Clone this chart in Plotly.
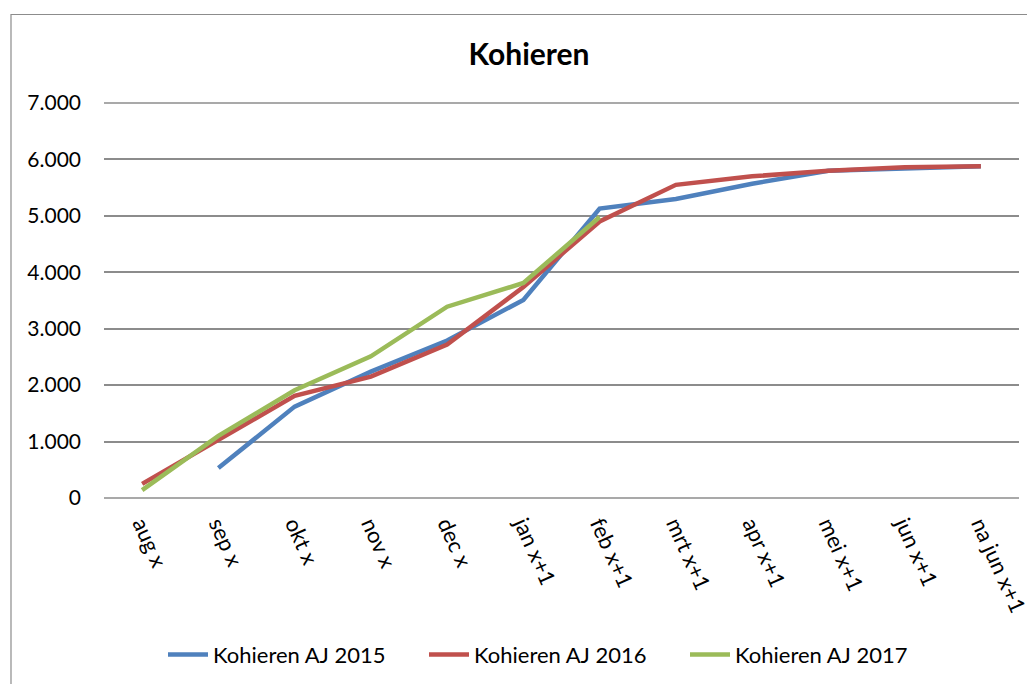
import plotly.graph_objects as go

categories = ["aug x", "sep x", "okt x", "nov x", "dec x", "jan x+1", "feb x+1",
              "mrt x+1", "apr x+1", "mei x+1", "jun x+1", "na jun x+1"]
aj2015 = [None, 530, 1620, 2240, 2790, 3510, 5130, 5300, 5570, 5800, 5840, 5880]
aj2016 = [250, 1020, 1810, 2150, 2720, 3740, 4900, 5550, 5700, 5800, 5860, 5880]
aj2017 = [140, 1100, 1910, 2510, 3390, 3810, 4980]
series_names = ["Kohieren AJ 2015", "Kohieren AJ 2016", "Kohieren AJ 2017"]
colors = ["#4F81BD", "#C0504D", "#9BBB59"]
y_ticks = [0, 1000, 2000, 3000, 4000, 5000, 6000, 7000]
y_tick_labels = ["0", "1.000", "2.000", "3.000", "4.000", "5.000", "6.000", "7.000"]

FONT = "Lato"
# the page body adds an 8px margin; figure is sized to fill the rest of the window
W, H = 1027, 676
fig = go.Figure()
for name, vals, col in zip(series_names, [aj2015, aj2016, aj2017], colors):
    fig.add_trace(go.Scatter(
        x=categories[:len(vals)], y=vals, name=name, mode="lines",
        line=dict(color=col, width=4.5), connectgaps=False))

grid_col = "#8C8C8C"
fig.update_layout(
    width=W, height=H,
    margin=dict(l=96, r=16, t=95, b=186, autoexpand=False),
    paper_bgcolor="white", plot_bgcolor="white",
    font=dict(family=FONT, size=22, color="black"),
    title=dict(text="<b>Kohieren</b>", x=521/W, xref="container", xanchor="center",
               y=1 - 46/H, yref="container", yanchor="middle",
               font=dict(family=FONT, size=30, color="black")),
    showlegend=True,
    legend=dict(orientation="h", x=59 / 915, xanchor="left", y=-0.397, yanchor="middle",
                font=dict(family=FONT, size=22), entrywidth=206, entrywidthmode="pixels",
                itemwidth=40, tracegroupgap=0),
    xaxis=dict(type="category", categoryorder="array", categoryarray=categories,
               range=[-0.5, 11.5], showgrid=False, showline=False, zeroline=False,
               automargin=False,
               tickangle=66, ticks="", ticklabelstandoff=8,
               tickfont=dict(family=FONT, size=22)),
    yaxis=dict(range=[0, 7000], tickvals=y_ticks, ticktext=y_tick_labels,
               showgrid=True, gridcolor=grid_col, gridwidth=1.5, zeroline=False,
               automargin=False,
               showline=False, ticks="", ticklabelstandoff=22,
               tickfont=dict(family=FONT, size=21)),
    shapes=[dict(type="line", xref="paper", yref="paper", x0=0, x1=1, y0=0, y1=0,
                 line=dict(color=grid_col, width=1.5), layer="below"),
            dict(type="line", xref="paper", yref="paper", x0=0, x1=1, y0=1, y1=1,
                 line=dict(color=grid_col, width=1.5), layer="below"),
            dict(type="rect", xref="paper", yref="paper",
                 x0=(11 - 104) / 915, x1=1.06, y0=-0.6, y1=(498 - 14.5) / 395,
                 line=dict(color=grid_col, width=1.2), fillcolor="rgba(0,0,0,0)")],
)
fig.write_html("out.html")
